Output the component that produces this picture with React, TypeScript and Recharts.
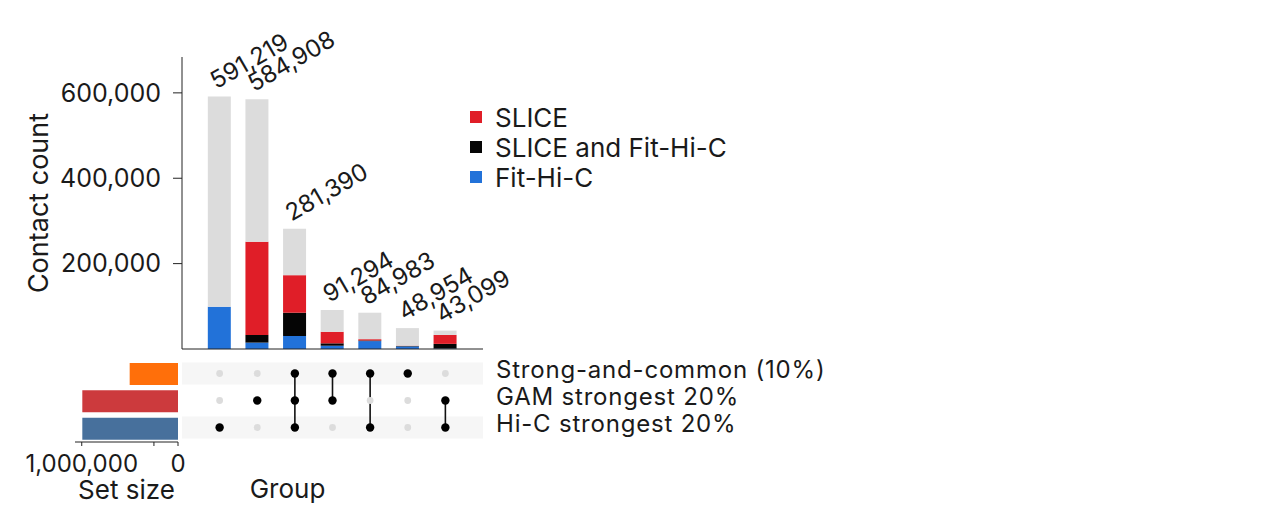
import React from 'react';
import {
  BarChart, Bar, XAxis, YAxis, Legend, LabelList, Cell,
  ScatterChart, Scatter, ReferenceArea, ReferenceLine,
} from 'recharts';

// ---------- data ----------
const groups = [1, 2, 3, 4, 5, 6, 7];
const totals = [591219, 584908, 281390, 91294, 84983, 48954, 43099];
const fitHiC = [99000, 15000, 30500, 7700, 18500, 6000, 1000];
const sliceAndFit = [0, 18000, 54500, 5600, 1500, 1200, 11000];
const sliceOnly = [0, 218000, 88000, 27000, 3000, 600, 21000];

const yTicks = [0, 200000, 400000, 600000];

// sets, listed top to bottom
const setNames = ['Strong-and-common (10%)', 'GAM strongest 20%', 'Hi-C strongest 20%'];
const setSizes = [502000, 994000, 994000];
const setColors = ['#ff6f0a', '#cc3a3d', '#47709c'];
const setTicks = [0, 250000, 500000, 750000, 1000000];

// membership of each group (indices into setNames)
const groupSets = [[2], [1], [0, 1, 2], [0, 1], [0, 2], [0], [1, 2]];

// legend order, top to bottom
const legendOrder = ['slice', 'both', 'fit'];

// ---------- derived tables ----------
const barData = groups.map((g, i) => ({
  x: g,
  fit: fitHiC[i],
  both: sliceAndFit[i],
  slice: sliceOnly[i],
  rest: totals[i] - fitHiC[i] - sliceAndFit[i] - sliceOnly[i],
  total: totals[i],
}));

const rowOf = (setIdx: number) => setNames.length - setIdx; // top row = 3

const activeDots: { x: number; y: number }[] = [];
const inactiveDots: { x: number; y: number }[] = [];
groups.forEach((g, i) => {
  setNames.forEach((_, s) => {
    (groupSets[i].includes(s) ? activeDots : inactiveDots).push({ x: g, y: rowOf(s) });
  });
});

const setData = setNames.map((n, i) => ({ name: n, size: setSizes[i] }));

const fmt = (v: number) => Number(v).toLocaleString('en-US');
const TEXT = '#1a1a1a';
const FONT = 'Inter, "DejaVu Sans", sans-serif';

const TotalLabel = (props: any) => {
  const { x, y, width, value } = props;
  const cx = x + width / 2 - 3;
  const cy = y - 7;
  return (
    <text x={cx} y={cy} transform={`rotate(-30 ${cx} ${cy})`} fontSize={24} fill={TEXT}>
      {fmt(value)}
    </text>
  );
};

const LegendContent = (props: any) => {
  const items = (props.payload || [])
    .filter((p: any) => p.type !== 'none' && legendOrder.includes(p.dataKey))
    .slice()
    .sort((a: any, b: any) => legendOrder.indexOf(a.dataKey) - legendOrder.indexOf(b.dataKey));
  return (
    <div>
      {items.map((it: any) => (
        <div key={it.value} style={{ display: 'flex', alignItems: 'center', height: 30 }}>
          <span style={{ display: 'inline-block', width: 12, height: 12, background: it.color, marginRight: 13 }} />
          <span style={{ fontSize: 26, color: TEXT, whiteSpace: 'nowrap' }}>{it.value}</span>
        </div>
      ))}
    </div>
  );
};

const RowTick = (props: any) => {
  const { x, y, payload } = props;
  return (
    <text x={x} y={y} dy={4} fontSize={24} letterSpacing={0.8} fill={TEXT} textAnchor="start">
      {setNames[setNames.length - payload.value]}
    </text>
  );
};

export default function App() {
  return (
    <div style={{ position: 'absolute', left: 0, top: 0, width: 1271, height: 516, background: '#fff', fontFamily: FONT }}>
      {/* upper bar chart */}
      <div style={{ position: 'absolute', left: 0, top: 0 }}>
        <BarChart width={800} height={360} data={barData} margin={{ top: 57, left: 32, right: 317, bottom: 10 }}>
          <XAxis type="number" dataKey="x" domain={[0, 8]} height={1} tick={false} tickLine={false}
            axisLine={{ stroke: '#222', strokeWidth: 1 }} />
          <YAxis type="number" domain={[0, 684000]} ticks={yTicks} tickFormatter={fmt} width={150}
            tickSize={9} tickMargin={12} axisLine={{ stroke: '#222' }} tickLine={{ stroke: '#222' }}
            tick={{ fontSize: 25, fill: TEXT }}
            label={{ value: 'Contact count', angle: -90, position: 'insideLeft', offset: 6,
              style: { textAnchor: 'middle', fontSize: 27, fill: TEXT } }} />
          <Legend layout="vertical" align="center" verticalAlign="middle" content={LegendContent}
            wrapperStyle={{ left: 470, top: 102, width: 'auto' }} />
          <Bar dataKey="fit" name="Fit-Hi-C" stackId="a" fill="#2272d9" barSize={23} isAnimationActive={false} />
          <Bar dataKey="both" name="SLICE and Fit-Hi-C" stackId="a" fill="#050505" barSize={23} isAnimationActive={false} />
          <Bar dataKey="slice" name="SLICE" stackId="a" fill="#e01e28" barSize={23} isAnimationActive={false} />
          <Bar dataKey="rest" name="other" stackId="a" fill="#dcdcdc" barSize={23} legendType="none" isAnimationActive={false}>
            <LabelList dataKey="total" content={TotalLabel} />
          </Bar>
        </BarChart>
      </div>

      {/* set-size bars */}
      <div style={{ position: 'absolute', left: 0, top: 0 }}>
        <BarChart layout="vertical" width={300} height={516} data={setData}
          margin={{ top: 360, left: 75, right: 122, bottom: 14 }}>
          <XAxis type="number" reversed domain={[0, 1070000]} ticks={setTicks}
            tickFormatter={(v: number) => (v === 0 || v === 1000000 ? fmt(v) : '')}
            height={60} tickSize={4} tickMargin={9} axisLine={{ stroke: '#222' }} tickLine={{ stroke: '#222' }}
            tick={{ fontSize: 24, fill: TEXT }}
            label={{ value: 'Set size', position: 'insideBottom', offset: 3, style: { fontSize: 26, fill: TEXT } }} />
          <YAxis type="category" dataKey="name" hide />
          <Bar dataKey="size" barSize={22} isAnimationActive={false}>
            {setData.map((d, i) => (
              <Cell key={d.name} fill={setColors[i]} />
            ))}
          </Bar>
        </BarChart>
      </div>

      {/* membership matrix */}
      <div style={{ position: 'absolute', left: 0, top: 0 }}>
        <ScatterChart width={900} height={516} margin={{ top: 360, left: 182, right: 17, bottom: 15 }}>
          <XAxis type="number" dataKey="x" domain={[0, 8]} height={60} tick={false} tickLine={false} axisLine={false}
            label={{
              content: (p: any) => {
                const vb = p.viewBox;
                return (
                  <text x={vb.x + vb.width / 2 - 45} y={vb.y + 57} textAnchor="middle" fontSize={26} fill={TEXT}>Group</text>
                );
              },
            }} />
          <YAxis type="number" dataKey="y" orientation="right" domain={[0.5, 3.5]} ticks={[1, 2, 3]} width={400}
            tickSize={0} tickMargin={13} axisLine={false} tickLine={false} tick={RowTick} />
          {setNames.map((_, s) =>
            s % 2 === 0 ? (
              <ReferenceArea key={s} y1={rowOf(s) - 0.41} y2={rowOf(s) + 0.41} fill="#f6f6f6" fillOpacity={1} stroke="none" />
            ) : null
          )}
          {groups.map((g, i) => {
            const rows = groupSets[i].map(rowOf);
            if (rows.length < 2) return null;
            return (
              <ReferenceLine key={g} segment={[{ x: g, y: Math.min(...rows) }, { x: g, y: Math.max(...rows) }]}
                stroke="#111" strokeWidth={1.6} />
            );
          })}
          <Scatter data={inactiveDots} isAnimationActive={false}
            shape={(p: any) => <circle cx={p.cx} cy={p.cy} r={3.4} fill="#dcdcdc" />} />
          <Scatter data={activeDots} isAnimationActive={false}
            shape={(p: any) => <circle cx={p.cx} cy={p.cy} r={4.2} fill="#000" />} />
        </ScatterChart>
      </div>
    </div>
  );
}
